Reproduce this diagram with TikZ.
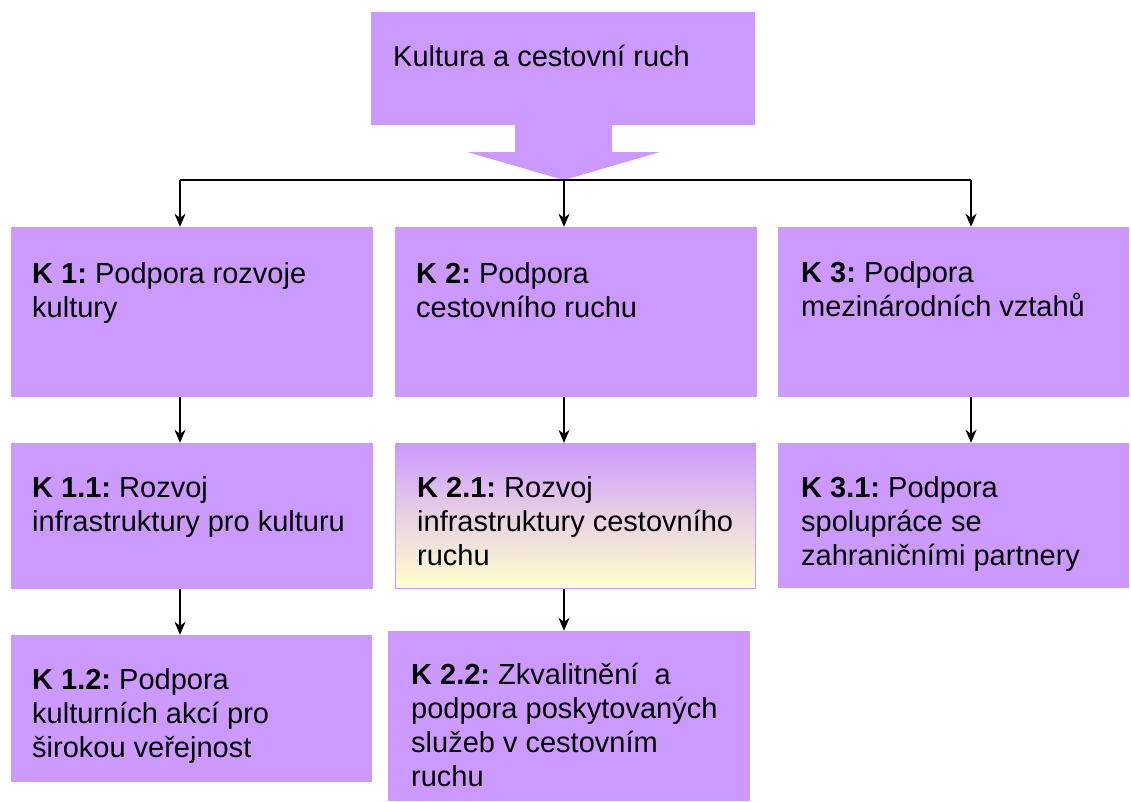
\documentclass[tikz,border=0pt]{standalone}
\usepackage{fontspec}
\setmainfont{Liberation Sans}
\usetikzlibrary{arrows.meta}
\frenchspacing
\definecolor{lila}{HTML}{CC99FF}
\definecolor{pale}{HTML}{FFFFCC}
\tikzset{
  box/.style={rectangle, fill=lila, draw=none, inner sep=0pt},
  lbl/.style={anchor=base west, inner sep=0pt, font=\fontsize{29}{34}\selectfont},
  arr/.style={draw=black, line width=1.4pt, -{Stealth[length=13pt,width=11pt,inset=4pt]}},
  ln/.style={draw=black, line width=1.4pt}
}
\newcommand{\bx}[2]{\parbox[t]{#1pt}{\raggedright\frenchspacing #2}}
\begin{document}
\begin{tikzpicture}[x=1pt,y=-1pt]
\useasboundingbox (0,0) rectangle (1131,801);
% top callout
\fill[lila] (371,12) -- (755,12) -- (755,125) -- (612,125) -- (612,152) -- (660,152)
  -- (564,180) -- (467,152) -- (515,152) -- (515,125) -- (371,125) -- cycle;
\node[anchor=base west, inner sep=0pt, font=\fontsize{29}{34}\selectfont] (top) at (393,66) {Kultura a cestovní ruch};
\coordinate (tip) at (564,180);
\coordinate (c1) at (180,180);
\coordinate (c2) at (564,180);
\coordinate (c3) at (971,180);
% boxes
\node[box, minimum width=362pt, minimum height=170pt] (k1) at (192,312) {};
\node[box, minimum width=362pt, minimum height=170pt] (k2) at (576,312) {};
\node[box, minimum width=351pt, minimum height=170pt] (k3) at (953.5,312) {};
\node[box, minimum width=362pt, minimum height=146pt] (k11) at (192,516) {};
\node[rectangle, inner sep=0pt, draw=lila, line width=1.2pt, top color=lila, bottom color=pale, middle color=lila!45!pale, shading angle=0, minimum width=360pt, minimum height=145pt] (k21) at (575.5,516) {};
\node[box, minimum width=351pt, minimum height=145pt] (k31) at (953.5,515.5) {};
\node[box, minimum width=361pt, minimum height=147pt] (k12) at (191.5,708.5) {};
\node[box, minimum width=362pt, minimum height=170pt] (k22) at (569,716) {};
% texts
\node[lbl] (t1) at (32,283) {\bx{330}{\textbf{K 1:} Podpora rozvoje\\kultury}};
\node[lbl] (t2) at (416,283) {\bx{330}{\textbf{K 2:} Podpora\\cestovního ruchu}};
\node[lbl] (t3) at (801,282) {\bx{330}{\textbf{K 3:} Podpora\\mezinárodních vztahů}};
\node[lbl] (t11) at (32,497) {\bx{340}{\textbf{K 1.1:} Rozvoj\\infrastruktury pro kulturu}};
\node[lbl] (t21) at (417,497) {\bx{340}{\textbf{K 2.1:} Rozvoj\\infrastruktury cestovního\\ruchu}};
\node[lbl] (t31) at (801,497) {\bx{330}{\textbf{K 3.1:} Podpora\\spolupráce se\\zahraničními partnery}};
\node[lbl] (t12) at (32,689) {\bx{330}{\textbf{K 1.2:} Podpora\\kulturních akcí pro\\širokou veřejnost}};
\node[lbl] (t22) at (411,684) {\bx{340}{\textbf{K 2.2:} Zkvalitnění\ \ a\\podpora poskytovaných\\služeb v cestovním\\ruchu}};
% connectors
\draw[ln] (c1) -- (c3);
\draw[arr] (c1) -- (k1.north -| c1);
\draw[arr] (tip) -- (k2.north -| c2);
\draw[arr] (c3) -- (k3.north -| c3);
\draw[arr] (k1.south -| c1) -- (k11.north -| c1);
\draw[arr] (k2.south -| c2) -- (k21.north -| c2);
\draw[arr] (k3.south -| c3) -- (k31.north -| c3);
\draw[arr] (k11.south -| c1) -- (k12.north -| c1);
\draw[arr] (k21.south -| c2) -- (k22.north -| c2);
\end{tikzpicture}
\end{document}
